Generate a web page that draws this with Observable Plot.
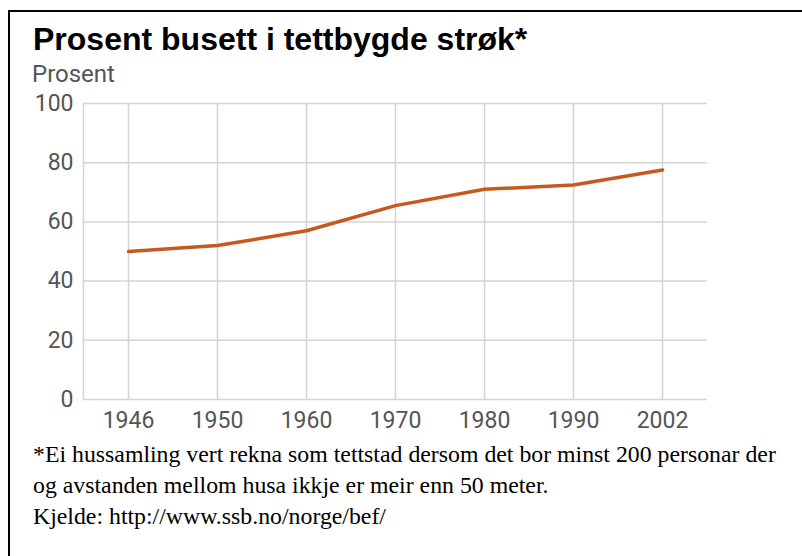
<!DOCTYPE html>
<html><head><meta charset="utf-8">
<script src="https://cdn.jsdelivr.net/npm/d3@7"></script>
<script src="https://cdn.jsdelivr.net/npm/@observablehq/plot@0.6"></script>
<style>
html,body{margin:0;padding:0;background:#fff;}
body{width:802px;height:556px;overflow:hidden;position:relative;}
#box{position:absolute;left:8px;top:10px;width:820px;height:580px;border-left:2px solid #000;border-top:2px solid #000;}
#title{position:absolute;left:33px;top:23px;font-family:"Liberation Sans",Arial,sans-serif;font-weight:bold;font-size:32px;line-height:32px;color:#000;white-space:nowrap;}
#ylabel{position:absolute;left:32px;top:62px;font-family:Roboto,sans-serif;font-size:24px;line-height:24px;color:#555;}
#chart{position:absolute;left:0;top:85px;}
#caption{position:absolute;left:33px;top:439px;width:770px;font-family:"Liberation Serif","Times New Roman",serif;font-size:23.8px;line-height:31px;color:#000;white-space:nowrap;}
</style></head>
<body>
<div id="box"></div>
<div id="title">Prosent busett i tettbygde strøk*</div>
<div id="ylabel">Prosent</div>
<div id="chart"></div>
<div id="caption">*Ei hussamling vert rekna som tettstad dersom det bor minst 200 personar der<br>og avstanden mellom husa ikkje er meir enn 50 meter.<br>Kjelde: http://www.ssb.no/norge/bef/</div>
<script>
const years = ["1946","1950","1960","1970","1980","1990","2002"];
const percent = [50, 52, 57, 65.5, 71, 72.5, 77.5];
const yTicks = [0, 20, 40, 60, 80, 100];

const data = years.map((y, i) => ({year: y, value: percent[i]}));

const chart = Plot.plot({
  width: 760, height: 355,
  marginLeft: 83, marginRight: 53, marginTop: 18, marginBottom: 41,
  style: {fontFamily: "Roboto, sans-serif", fontSize: "23px", color: "#555", background: "transparent", overflow: "visible"},
  x: {type: "point", domain: years, padding: 0.5, label: null, tickSize: 0, tickPadding: 12},
  y: {domain: [0, 100], ticks: yTicks, label: null, tickSize: 0, tickPadding: 10},
  marks: [
    Plot.gridX(years, {stroke: "#d4d4d4", strokeOpacity: 1, strokeWidth: 1.5}),
    Plot.gridY(yTicks, {stroke: "#d4d4d4", strokeOpacity: 1, strokeWidth: 1.5}),
    Plot.frame({anchor: "left", stroke: "#d4d4d4", strokeWidth: 1.5}),
    Plot.line(data, {x: "year", y: "value", stroke: "#c65a1e", strokeWidth: 3.5, curve: "linear"})
  ]
});
document.getElementById("chart").appendChild(chart);
</script>
</body></html>
